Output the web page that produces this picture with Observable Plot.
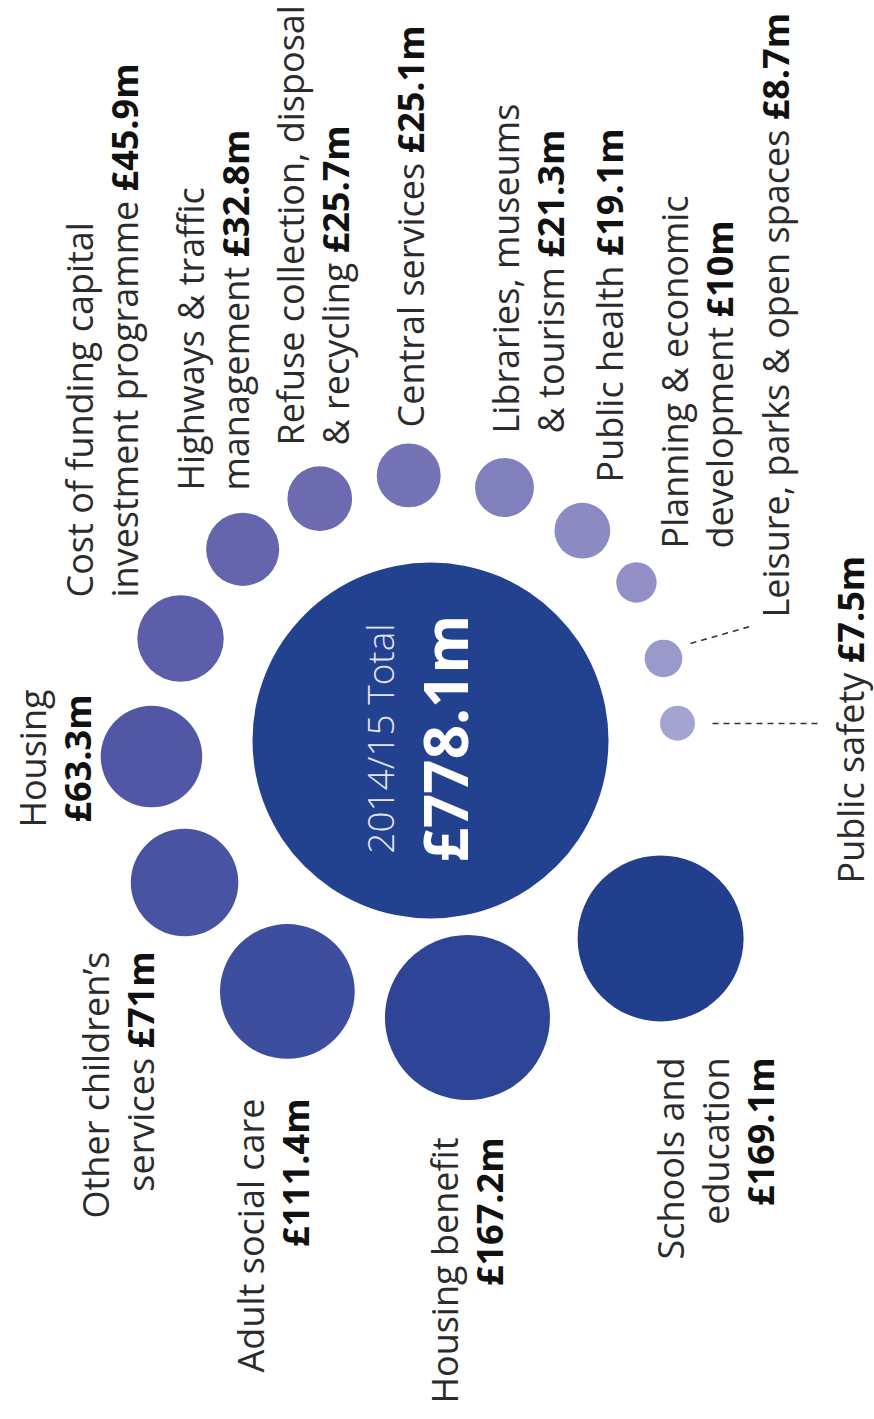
<!DOCTYPE html>
<html>
<head>
<meta charset="utf-8">
<script src="https://cdn.jsdelivr.net/npm/d3@7"></script>
<script src="https://cdn.jsdelivr.net/npm/@observablehq/plot@0.6"></script>
<style>
  html, body { margin: 0; padding: 0; background: #fff; }
  #chart svg { display: block; }
</style>
</head>
<body>
<div id="chart"></div>
<script>
// ---------------- DATA ----------------
const categories = [
  "Schools and\neducation",
  "Housing benefit",
  "Adult social care",
  "Other children’s\nservices",
  "Housing",
  "Cost of funding capital\ninvestment programme",
  "Highways & traffic\nmanagement",
  "Refuse collection, disposal\n& recycling",
  "Central services",
  "Libraries, museums\n& tourism",
  "Public health",
  "Planning & economic\ndevelopment",
  "Leisure, parks & open spaces",
  "Public safety"
];
const values = [169.1, 167.2, 111.4, 71, 63.3, 45.9, 32.8, 25.7, 25.1, 21.3, 19.1, 10, 8.7, 7.5];
const totalTitle = "2014/15 Total";
const totalValue = 778.1;

// ---------------- LAYOUT (not data) ----------------
// separator between the name and the value: new line or space
const valueSep = ["\n", "\n", "\n", " ", "\n", " ", " ", " ", " ", " ", " ", " ", " ", " "];
// bubble ring placement around the total bubble (degrees, distance)
const ringAngle = [40.7, 82.4, 119.7, 150, 176.7, 202.2, 225.5, 245.4, 265.3, 286.3, 305.9, 322.5, 340.6, 356];
const ringDist  = [303.5, 279.5, 288.9, 284, 279.5, 270, 268, 266, 266, 263.6, 259, 259.6, 247, 247.6];
// label anchors (last baseline, text start/end) relative to the total bubble
const labelX = [343, 72, -122, -277, -340, -293, -182, -82, -7, 133, 192, 302, 358, 433];
const labelY = [317, 397, 358, 211, 18, -143, -250, -295, -313, -307, -258, -192, -123, 143];
const labelAnchor = ["end", "end", "end", "end", "middle", "start", "start", "start", "start", "start", "start", "start", "start", "start"];
// dashed leaders
const leaders = [
  {x1: 260, y1: -97, x2: 323, y2: -115},
  {x1: 282, y1: -17, x2: 388, y2: -17}
];
const bubbleColors = ["#213f8c", "#2e4496", "#3c4e9d", "#4853a1", "#5257a5", "#5c5ea9", "#6565ad", "#6c6bb0", "#7373b5", "#8080bd", "#8b8ac3", "#9290c6", "#9a99cb", "#a4a4d1"];
const LABEL_FILL = "#2b2b2b";

const fmt = v => `£${v}m`;
const items = categories.map((name, i) => {
  const a = ringAngle[i] * Math.PI / 180;
  return {
    name,
    value: values[i],
    cx: ringDist[i] * Math.cos(a),
    cy: ringDist[i] * Math.sin(a),
    label: name + valueSep[i] + fmt(values[i]),
    lx: labelX[i],
    ly: labelY[i],
    anchor: labelAnchor[i]
  };
});
const total = [{value: totalValue, title: totalTitle, amount: fmt(totalValue)}];

const labelMark = (anchor) => Plot.text(items.filter(d => d.anchor === anchor), {
  x: "lx", y: "ly", text: "label",
  rotate: -90, textAnchor: anchor, lineAnchor: "bottom",
  fontSize: 36, lineHeight: 1.25, fill: LABEL_FILL,
  fontFamily: "'Open Sans', 'Noto Sans', sans-serif"
});

const chart = Plot.plot({
  width: 874,
  height: 1419,
  margin: 0,
  x: {domain: [-430, 444], range: [0, 874], axis: null},
  y: {domain: [-740, 679], range: [0, 1419], axis: null},
  r: {type: "sqrt", domain: [0, totalValue], range: [0, 178]},
  color: {type: "ordinal", domain: categories, range: bubbleColors},
  style: {background: "#fff", fontFamily: "'Open Sans', sans-serif"},
  marks: [
    Plot.link(leaders, {x1: "x1", y1: "y1", x2: "x2", y2: "y2", stroke: "#333", strokeWidth: 1.6, strokeDasharray: "6,5"}),
    Plot.dot(total, {x: () => 0, y: () => 0, r: "value", fill: "#22418f"}),
    Plot.dot(items, {x: "cx", y: "cy", r: "value", fill: "name"}),
    Plot.text(total, {x: () => -37, y: () => -2, text: "title", rotate: -90, textAnchor: "middle", lineAnchor: "bottom",
      fontSize: 37, fontWeight: 300, fill: "#e3e6f4", fontFamily: "'Open Sans', sans-serif"}),
    Plot.text(total, {x: () => 37, y: () => -2, text: "amount", rotate: -90, textAnchor: "middle", lineAnchor: "bottom",
      fontSize: 60, fontWeight: 700, fill: "#ffffff", fontFamily: "'Open Sans', sans-serif"}),
    labelMark("start"),
    labelMark("end"),
    labelMark("middle")
  ]
});

// bold value parts of labels
chart.querySelectorAll(`g[fill="${LABEL_FILL}"] text`).forEach(t => {
  const spans = t.querySelectorAll("tspan");
  const targets = spans.length ? Array.from(spans) : [t];
  targets.forEach(el => {
    const s = el.textContent;
    const k = s.indexOf("£");
    if (k < 0) return;
    el.textContent = "";
    if (k > 0) el.appendChild(document.createTextNode(s.slice(0, k)));
    const b = document.createElementNS("http://www.w3.org/2000/svg", "tspan");
    b.setAttribute("font-weight", "700");
    b.setAttribute("fill", "#111");
    b.textContent = s.slice(k);
    el.appendChild(b);
  });
});

document.getElementById("chart").appendChild(chart);
</script>
</body>
</html>
